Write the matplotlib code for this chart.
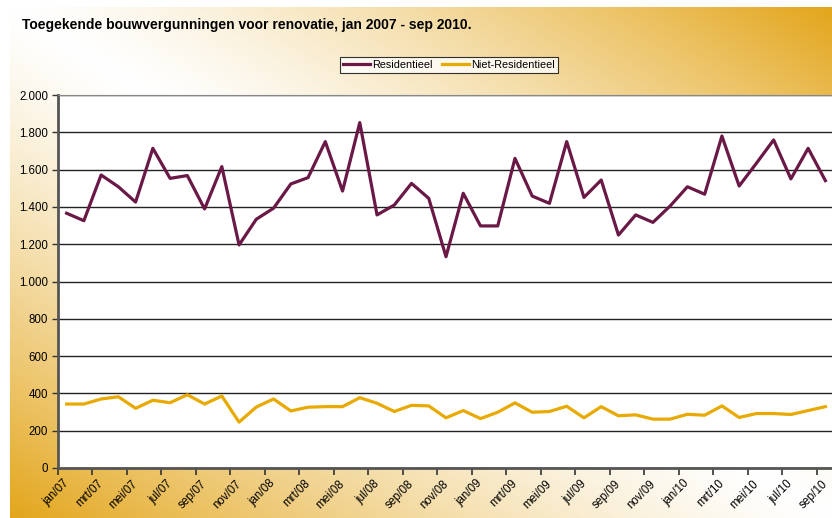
import numpy as np
import matplotlib.pyplot as plt
import matplotlib.transforms as mtransforms
from matplotlib.ticker import FuncFormatter

maanden = ["jan", "feb", "mrt", "apr", "mei", "jun", "jul", "aug", "sep", "okt", "nov", "dec"]
labels = [f"{m}/{j:02d}" for j in (7, 8, 9, 10) for m in maanden][:45]

residentieel = [1366, 1326, 1571, 1508, 1426, 1714, 1553, 1568, 1389, 1616, 1196, 1334,
                1393, 1523, 1557, 1750, 1485, 1852, 1357, 1410, 1526, 1446, 1133, 1473,
                1298, 1298, 1660, 1458, 1419, 1750, 1451, 1544, 1249, 1357, 1317, 1405,
                1508, 1468, 1780, 1512, 1634, 1759, 1550, 1714, 1541]
niet_residentieel = [343, 343, 370, 382, 320, 363, 350, 393, 343, 386, 246, 327,
                     370, 306, 326, 329, 329, 377, 347, 303, 336, 333, 269, 308,
                     265, 299, 349, 299, 303, 331, 269, 329, 280, 285, 262, 262,
                     288, 283, 333, 271, 292, 292, 287, 308, 329]

W, H = 832, 518
fig = plt.figure(figsize=(W / 100, H / 100), dpi=100)

# achtergrond: diagonale oranje-wit-oranje gradient
bg = fig.add_axes([10 / W, 0, (W - 10) / W, (H - 7) / H])
bg.set_axis_off()
u, w = np.meshgrid(np.linspace(0, 1, 300), np.linspace(0, 1, 200))
s = (u - w + 1) / 2
f = np.abs(2 * s - 1) ** 1.3
oranje = np.array([227, 166, 28]) / 255
img = 1 - f[..., None] * (1 - oranje)
bg.imshow(img, aspect="auto", extent=[0, 1, 0, 1])

ax = fig.add_axes([58 / W, 50 / H, 776 / W, 373 / H])
x = np.arange(len(residentieel))
ax.plot(x, residentieel, color="#6a1846", lw=2.3, label="Residentieel")
ax.plot(x, niet_residentieel, color="#e8a900", lw=2.3, label="Niet-Residentieel")

ax.set_xlim(-0.5, len(x) - 0.5)
ax.set_ylim(0, 2000)
ax.set_yticks(range(0, 2001, 200))
ax.yaxis.set_major_formatter(FuncFormatter(lambda v, p: f"{int(v):,}".replace(",", ".")))
ax.grid(axis="y", color="#222222", lw=1)
ax.set_axisbelow(True)

ax.set_xticks(np.arange(-0.5, len(x), 2))
ax.set_xticklabels([])
ax.set_xticks(x[::2], minor=True)
ax.set_xticklabels(labels[::2], minor=True, rotation=45, ha="right", va="top",
                   rotation_mode="anchor", fontsize=8.3, family="Liberation Sans")
ax.tick_params(axis="x", which="major", length=5, width=1.2, color="#333333", direction="out")
ax.tick_params(axis="x", which="minor", length=0, pad=7)
ax.tick_params(axis="y", length=4, width=1, color="#333333", labelsize=8.3, pad=3)
offset = mtransforms.ScaledTranslation(-4 / 100, 0, fig.dpi_scale_trans)
for t in ax.get_xticklabels(minor=True):
    t.set_transform(t.get_transform() + offset)
for t in ax.get_yticklabels():
    t.set_family("Liberation Sans")

for side in ("left", "bottom"):
    ax.spines[side].set_color("#555555")
    ax.spines[side].set_linewidth(2)
ax.spines["top"].set_color("#888888")
ax.spines["right"].set_visible(False)

fig.text(22 / W, 1 - 25 / H, "Toegekende bouwvergunningen voor renovatie, jan 2007 - sep 2010.",
         fontsize=10, fontweight="bold", family="Liberation Sans", va="center")

leg = fig.legend(loc="center", bbox_to_anchor=(449 / W, 1 - 65 / H), ncol=2,
                 frameon=True, fancybox=False, edgecolor="black", handlelength=2.5,
                 handletextpad=0.2, columnspacing=0.8, borderpad=0.3,
                 prop={"family": "Liberation Sans", "size": 7.8})
leg.get_frame().set_linewidth(0.8)
leg.get_frame().set_facecolor("white")

fig.savefig("out.png", dpi=100)
